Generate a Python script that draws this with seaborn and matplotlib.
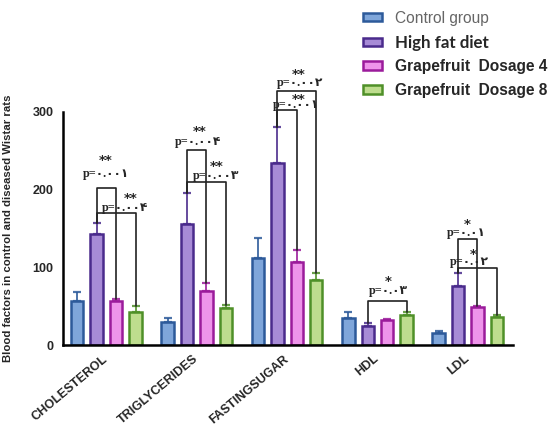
import matplotlib
matplotlib.use("Agg")
import matplotlib.pyplot as plt
from matplotlib.patches import Patch
import seaborn as sns
import pandas as pd
import numpy as np

categories = ["CHOLESTEROL", "TRIGLYCERIDES", "FASTINGSUGAR", "HDL", "LDL"]
groups = ["Control group", "High fat diet", "Grapefruit  Dosage 4", "Grapefruit  Dosage 8"]

control = [57, 30, 112, 35, 16]
control_err = [11, 5, 25, 8, 2]
high_fat = [143, 156, 234, 25, 76]
high_fat_err = [14, 40, 46, 3, 16]
dose4 = [56, 69, 107, 32, 49]
dose4_err = [3, 11, 15, 2, 1.5]
dose8 = [43, 48, 84, 38, 36]
dose8_err = [7, 3, 8, 4, 2]

face_colors = ["#7FA6DA", "#A78BD6", "#EE94EA", "#BEDD8E"]
edge_colors = ["#2D5A9A", "#4A2B8C", "#9B1B9B", "#4F9028"]

# comparisons: (category, hue_a, hue_b, bracket_y, label, stars, text_dx, text_y, star_dx, star_y)
comparisons = [
    (0, 1, 2, 202, "p=۰.۰۰۱", "**", 0.00, 220, -0.01, 237),
    (0, 1, 3, 169.5, "p=۰.۰۰۴", "**", 0.21, 176, 0.265, 188),
    (1, 1, 2, 251, "p=۰.۰۰۴", "**", 0.02, 261.6, 0.03, 275),
    (1, 1, 3, 209, "p=۰.۰۰۳", "**", 0.21, 217.5, 0.22, 229),
    (2, 1, 3, 326, "p=۰.۰۰۲", "**", 0.145, 336.8, 0.13, 347.5),
    (2, 1, 2, 301.6, "p=۰.۰۰۱", "**", 0.10, 309, 0.13, 316),
    (3, 1, 3, 56.6, "p=۰.۰۳", "*", 0.12, 69.5, 0.12, 81.5),
    (4, 1, 2, 136, "p=۰.۰۱", "*", -0.015, 143.7, -0.01, 154.4),
    (4, 1, 3, 99.5, "p=۰.۰۲", "*", 0.017, 107, 0.055, 115.8),
]

values = [control, high_fat, dose4, dose8]
errors = [control_err, high_fat_err, dose4_err, dose8_err]

rows = []
for g, vals in zip(groups, values):
    for c, v in zip(categories, vals):
        rows.append({"category": c, "group": g, "value": v})
df = pd.DataFrame(rows)

sns.set_style("white")
fig = plt.figure(figsize=(5.6, 4.33), dpi=100)
ax = fig.add_axes([0.1125, 0.2032, 0.8035, 0.539])

sns.barplot(data=df, x="category", y="value", hue="group", order=categories,
            hue_order=groups, palette=face_colors, width=0.86, gap=0.36,
            errorbar=None, ax=ax, legend=False, saturation=1)

bar_x = {}
bar_containers = list(ax.containers)
for i, cont in enumerate(bar_containers):
    for j, patch in enumerate(cont.patches):
        patch.set_edgecolor(edge_colors[i])
        patch.set_linewidth(1.8)
        cx = patch.get_x() + patch.get_width() / 2
        bar_x[(j, i)] = cx
        ax.errorbar(cx, values[i][j], yerr=[[0], [errors[i][j]]], color=edge_colors[i],
                    capsize=3.2, capthick=1.6, elinewidth=1.4, alpha=0.85, zorder=1)

ax.set_ylim(0, 300)
ax.set_xlim(-0.48, 4.5)
ax.set_yticks([0, 100, 200, 300])
ax.set_xlabel("")
ax.set_ylabel("Blood factors in control and diseased Wistar rats", fontsize=8.2,
              fontweight="bold", family="Liberation Sans", labelpad=14)
for s in ["top", "right"]:
    ax.spines[s].set_visible(False)
for s in ["left", "bottom"]:
    ax.spines[s].set_color("black")
    ax.spines[s].set_linewidth(1.8)
ax.tick_params(axis="both", direction="out", length=5, width=1.8, color="black")
ax.tick_params(axis="y", labelsize=9, pad=2)
for lab in ax.get_yticklabels():
    lab.set_fontweight("bold")
    lab.set_family("Liberation Sans")
ax.set_xticks(range(len(categories)))
ax.set_xticklabels(categories, rotation=40, ha="right", va="center",
                   rotation_mode="anchor", fontsize=9, fontweight="bold",
                   family="Liberation Sans")
ax.tick_params(axis="x", pad=4)

tfam = ["Liberation Serif", "DejaVu Sans"]
for (c, a, b, by, label, stars, tdx, ty, sdx, sy) in comparisons:
    xa = bar_x[(c, a)]
    xb = bar_x[(c, b)]
    ya = values[a][c] + errors[a][c]
    yb = values[b][c] + errors[b][c]
    ax.plot([xa, xa, xb, xb], [ya, by, by, yb], color="#222222", lw=1.2,
            clip_on=False, zorder=3)
    ax.text(c + tdx, ty, label, ha="center", va="center", fontsize=8.8,
            fontweight="bold", family=tfam, clip_on=False, zorder=4)
    ax.text(c + sdx, sy, stars, ha="center", va="center", fontsize=9.5,
            fontweight="bold", family="DejaVu Sans", clip_on=False, zorder=4)

handles = [Patch(facecolor=fc, edgecolor=ec, linewidth=1.8)
           for fc, ec in zip(face_colors, edge_colors)]
leg = fig.legend(handles, groups, loc="upper left", bbox_to_anchor=(0.648, 0.975),
                 frameon=False, fontsize=11.5, handlelength=1.2, handleheight=0.45,
                 labelspacing=0.55, handletextpad=0.8, borderpad=0,
                 borderaxespad=0)
texts = leg.get_texts()
texts[0].set_color("#666666")
texts[0].set_family("Liberation Sans")
texts[0].set_fontsize(11.2)
texts[1].set_family("Lato")
texts[1].set_fontweight("bold")
texts[1].set_fontsize(12.2)
for t in texts[2:]:
    t.set_family("Liberation Sans")
    t.set_fontweight("bold")
    t.set_fontsize(11.2)

fig.savefig("out.png", dpi=100)
